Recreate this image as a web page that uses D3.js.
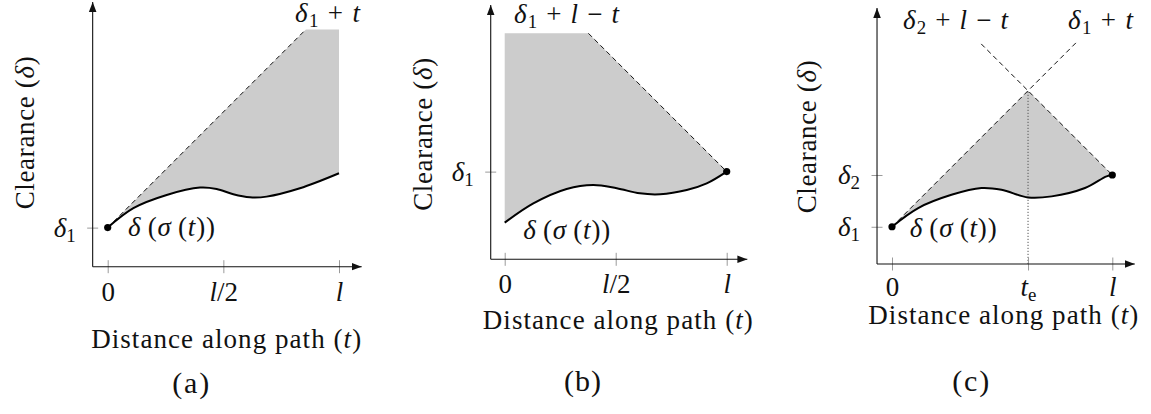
<!DOCTYPE html>
<html><head><meta charset="utf-8">
<script src="https://cdn.jsdelivr.net/npm/d3@7"></script>
<style>
html,body{margin:0;padding:0;background:#fff;}
svg{display:block;}
</style></head><body>
<svg id="chart" width="1151" height="414" font-family="Liberation Serif"></svg>
<script>
// ================= DATA =================
const pathLength = 1;                       // l
const xTitle = "Distance along path ($t$)";
const yTitle = "Clearance ($δ$)";
const curveLabel = "$δ\u2009(σ\u2009(t))$";
const captions = ["(a)", "(b)", "(c)"];

// panel (a)
const xTickValuesA = [0, 0.5, 1];
const xTickLabelsA = ["0", "$l/2$", "$l$"];
const yTickValuesA = [0.169];
const yTickLabelsA = ["$δ_1$"];
const delta1A = 0.169;
const capA = 1.026;
const curveTA = [0, 0.111, 0.255, 0.399, 0.471, 0.543, 0.615, 0.687, 0.831, 1];
const curveDA = [0.169, 0.253, 0.310, 0.342, 0.336, 0.313, 0.300, 0.303, 0.339, 0.404];
const boundLabelsA = ["$δ_1 + t$"];

// panel (b)
const xTickValuesB = [0, 0.5, 1];
const xTickLabelsB = ["0", "$l/2$", "$l$"];
const yTickValuesB = [0.395];
const yTickLabelsB = ["$δ_1$"];
const delta1B = 0.395;
const capB = 1.018;
const curveTB = [0, 0.129, 0.279, 0.399, 0.505, 0.609, 0.700, 0.820, 0.910, 1];
const curveDB = [0.165, 0.252, 0.317, 0.335, 0.320, 0.297, 0.293, 0.312, 0.342, 0.395];
const boundLabelsB = ["$δ_1 + l − t$"];

// panel (c)
const delta1C = 0.169;
const delta2C = 0.404;
const teC = (delta2C - delta1C + pathLength) / 2;   // meeting point of the two bounds
const xTickValuesC = [0, teC, 1];
const xTickLabelsC = ["0", "$t_e$", "$l$"];
const yTickValuesC = [0.169, 0.404];
const yTickLabelsC = ["$δ_1$", "$δ_2$"];
const riseEndC = 0.844;     // extent of dashed δ1 + t
const fallStartC = 0.405;   // extent of dashed δ2 + l − t
const curveTC = [0, 0.119, 0.270, 0.406, 0.497, 0.618, 0.725, 0.876, 0.974, 1];
const curveDC = [0.169, 0.254, 0.314, 0.345, 0.337, 0.302, 0.307, 0.345, 0.398, 0.404];
const boundLabelsC = ["$δ_2 + l − t$", "$δ_1 + t$"];

// ================= LAYOUT (pixels) =================
const FS = 27, CAP_FS = 30;
const FONT = "Liberation Serif";
const layout = [
  { x0: 107.7, xl: 339.0, base: 266.7, tMin: -0.065, tMax: 1.098, dTop: 1.144,
    yTitle: [33.5, 132.5, 153], xTitle: [226.7, 348.3, 270], caption: [191.7, 393, 37],
    curveLabel: [128, 236, 87], xTickY: 34.5,
    bound: [[295, 21.5, 65]] },
  { x0: 504.7, xl: 726.7, base: 259.3, tMin: -0.063, tMax: 1.093, dTop: 1.145,
    yTitle: [431.5, 134, 153], xTitle: [618.3, 329.3, 270], caption: [583, 391, 37],
    curveLabel: [523.3, 238.5, 87], xTickY: 34,
    bound: [[514, 22.5, 105]] },
  { x0: 892.0, xl: 1112.3, base: 264.0, tMin: -0.068, tMax: 1.102, dTop: 1.162,
    yTitle: [815.5, 136.5, 153], xTitle: [1003.8, 323.5, 270], caption: [971.7, 391, 37],
    curveLabel: [909.7, 236.5, 87], xTickY: 31.5,
    bound: [[903, 28.5, 105], [1068, 28.5, 65]] }
];

// ================= PANEL SPECS built from data =================
const panels = [
  { curveT: curveTA, curveD: curveDA, xTicks: xTickValuesA, xLabels: xTickLabelsA,
    yTicks: yTickValuesA, yLabels: yTickLabelsA, boundLabels: boundLabelsA,
    envelope: [[pathLength, capA], [capA - delta1A, capA], [0, delta1A]],
    dashed: [[[0, delta1A], [capA - delta1A, capA]]],
    dots: [[0, delta1A]], dotted: null },
  { curveT: curveTB, curveD: curveDB, xTicks: xTickValuesB, xLabels: xTickLabelsB,
    yTicks: yTickValuesB, yLabels: yTickLabelsB, boundLabels: boundLabelsB,
    envelope: [[pathLength, delta1B], [delta1B + pathLength - capB, capB], [0, capB], [0, curveDB[0]]],
    dashed: [[[delta1B + pathLength - capB, capB], [pathLength, delta1B]]],
    dots: [[pathLength, delta1B]], dotted: null },
  { curveT: curveTC, curveD: curveDC, xTicks: xTickValuesC, xLabels: xTickLabelsC,
    yTicks: yTickValuesC, yLabels: yTickLabelsC, boundLabels: boundLabelsC,
    envelope: [[pathLength, delta2C], [teC, delta1C + teC], [0, delta1C]],
    dashed: [[[0, delta1C], [riseEndC, delta1C + riseEndC]],
             [[fallStartC, delta2C + pathLength - fallStartC], [pathLength, delta2C]]],
    dots: [[0, delta1C], [pathLength, delta2C]],
    dotted: [[teC, 0], [teC, delta1C + teC]] }
];

// ================= HELPERS =================
function mathRuns(str) {
  const runs = []; let math = false;
  for (let i = 0; i < str.length; i++) {
    const c = str[i];
    if (c === "$") { math = !math; continue; }
    if (math && c === "_") {
      let s = str[i + 1]; i++;
      if (s === "{") { const j = str.indexOf("}", i); s = str.slice(i + 1, j); i = j; }
      runs.push({ t: s, sub: true, it: false }); continue;
    }
    const it = math && /[A-Za-z\u03b1-\u03c9]/.test(c);
    const last = runs[runs.length - 1];
    if (last && !last.sub && last.it === it) last.t += c;
    else runs.push({ t: c, it, sub: false });
  }
  return runs;
}
function setMath(text, str, fs) {
  text.text(null).attr("font-size", fs).attr("font-family", FONT);
  let shifted = false;
  mathRuns(str).forEach(r => {
    const ts = text.append("tspan").text(r.t);
    if (r.it) ts.attr("font-style", "italic");
    if (r.sub) { ts.attr("font-size", fs * 0.7).attr("dy", fs * 0.2); shifted = true; }
    else if (shifted) { ts.attr("dy", -fs * 0.2); shifted = false; }
  });
}
function fitWidth(text, target) {
  const n = text.node();
  const w = n.getComputedTextLength();
  const k = n.getNumberOfChars();
  if (k > 1) text.attr("letter-spacing", ((target - w) / (k - 1)).toFixed(2));
}

// ================= DRAW =================
const svg = d3.select("#chart");
svg.append("defs").append("marker")
  .attr("id", "arrow").attr("viewBox", "0 -5 10 10")
  .attr("refX", 10).attr("refY", 0)
  .attr("markerWidth", 10).attr("markerHeight", 10)
  .attr("markerUnits", "userSpaceOnUse").attr("orient", "auto")
  .append("path").attr("d", "M0,-3.8L10,0L0,3.8Z").attr("fill", "#111");

panels.forEach((p, idx) => {
  const L = layout[idx];
  const ppu = L.xl - L.x0;
  const x = d3.scaleLinear().domain([0, pathLength]).range([L.x0, L.xl]);
  const y = d3.scaleLinear().domain([0, 1]).range([L.base, L.base - ppu]);
  const g = svg.append("g").attr("font-family", FONT);

  const pts = p.curveT.map((t, i) => [t, p.curveD[i]]);
  const smooth = d3.line().x(d => x(d[0])).y(d => y(d[1])).curve(d3.curveCatmullRom.alpha(0.5));
  const straight = d3.line().x(d => x(d[0])).y(d => y(d[1]));

  // shaded region
  g.append("path")
    .attr("d", smooth(pts) + straight(p.envelope).replace(/^M/, "L") + "Z")
    .attr("fill", "#cccccc").attr("stroke", "none");

  // dashed bounds
  p.dashed.forEach(seg => {
    g.append("path").attr("d", straight(seg))
      .attr("fill", "none").attr("stroke", "#111").attr("stroke-width", 1)
      .attr("stroke-dasharray", "5,3.5");
  });

  // dotted t_e
  if (p.dotted) {
    g.append("path").attr("d", straight(p.dotted))
      .attr("fill", "none").attr("stroke", "#555").attr("stroke-width", 1)
      .attr("stroke-dasharray", "1.2,1.8");
  }

  // x axis
  const xa = g.append("g").attr("transform", `translate(0,${L.base})`)
    .call(d3.axisBottom(x).tickValues(p.xTicks).tickSizeOuter(0));
  xa.attr("font-family", FONT).attr("font-size", null);
  xa.select(".domain").remove();
  xa.selectAll(".tick line").attr("y1", -6.5).attr("y2", 6.5).attr("stroke", "#9a9a9a").attr("stroke-width", 1);
  xa.selectAll(".tick text").each(function (d, i) {
    const t = d3.select(this).attr("y", L.xTickY).attr("dy", null).attr("fill", "#111");
    setMath(t, p.xLabels[i], FS);
  });

  // y axis
  const ya = g.append("g").attr("transform", `translate(${x(L.tMin)},0)`)
    .call(d3.axisLeft(y).tickValues(p.yTicks).tickSizeOuter(0));
  ya.attr("font-family", FONT).attr("font-size", null);
  ya.select(".domain").remove();
  ya.selectAll(".tick line").attr("x1", -5.5).attr("x2", 5.5).attr("stroke", "#9a9a9a").attr("stroke-width", 1);
  ya.selectAll(".tick text").each(function (d, i) {
    const t = d3.select(this).attr("x", -17).attr("y", 8.5).attr("dy", null).attr("fill", "#111");
    setMath(t, p.yLabels[i], FS);
  });

  // axis lines with arrows
  g.append("line")
    .attr("x1", x(L.tMin)).attr("y1", y(0)).attr("x2", x(L.tMax)).attr("y2", y(0))
    .attr("stroke", "#111").attr("stroke-width", 1.1).attr("marker-end", "url(#arrow)");
  g.append("line")
    .attr("x1", x(L.tMin)).attr("y1", y(0)).attr("x2", x(L.tMin)).attr("y2", y(L.dTop))
    .attr("stroke", "#111").attr("stroke-width", 1.1).attr("marker-end", "url(#arrow)");

  // clearance curve
  g.append("path").attr("d", smooth(pts))
    .attr("fill", "none").attr("stroke", "#000").attr("stroke-width", 2);

  // end points
  g.selectAll("circle.pt").data(p.dots).enter().append("circle")
    .attr("class", "pt").attr("cx", d => x(d[0])).attr("cy", d => y(d[1]))
    .attr("r", 3.6).attr("fill", "#000");

  // labels
  const cl = g.append("text").attr("x", L.curveLabel[0]).attr("y", L.curveLabel[1]).attr("fill", "#111");
  setMath(cl, curveLabel, FS); fitWidth(cl, L.curveLabel[2]);

  p.boundLabels.forEach((s, i) => {
    const b = L.bound[i];
    const t = g.append("text").attr("x", b[0]).attr("y", b[1]).attr("fill", "#111");
    setMath(t, s, FS); fitWidth(t, b[2]);
  });

  const xt = g.append("text").attr("x", L.xTitle[0]).attr("y", L.xTitle[1])
    .attr("text-anchor", "middle").attr("fill", "#111");
  setMath(xt, xTitle, FS); fitWidth(xt, L.xTitle[2]);

  const yt = g.append("text")
    .attr("transform", `translate(${L.yTitle[0]},${L.yTitle[1]}) rotate(-90)`)
    .attr("text-anchor", "middle").attr("fill", "#111");
  setMath(yt, yTitle, FS); fitWidth(yt, L.yTitle[2]);

  const cp = g.append("text").attr("x", L.caption[0]).attr("y", L.caption[1])
    .attr("text-anchor", "middle").attr("fill", "#111");
  setMath(cp, captions[idx], CAP_FS); fitWidth(cp, L.caption[2]);
});
</script>
</body></html>
